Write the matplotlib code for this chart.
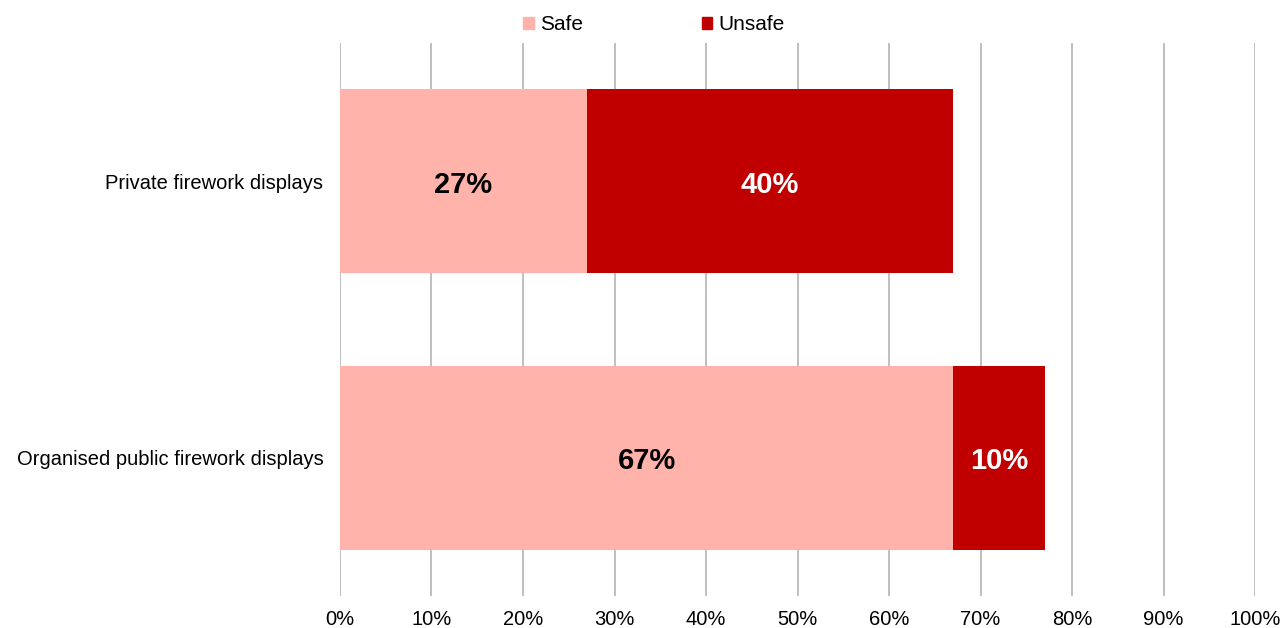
import numpy as np
import matplotlib.pyplot as plt
from matplotlib.patches import Patch

plt.rcParams['font.family'] = ['Liberation Sans', 'DejaVu Sans']

# Survey shares (%)
categories = ['Private firework displays', 'Organised public firework displays']
safe = [27, 67]
unsafe = [40, 10]
series_names = ['Safe', 'Unsafe']
series_colors = ['#FFB3AB', '#C00000']
label_colors = ['black', 'white']
xticks = np.arange(0, 101, 10)

fig = plt.figure(figsize=(12.82, 6.28), dpi=100)
ax = fig.add_axes([0.2652, 0.051, 0.979 - 0.2652, 0.8805])

y = np.arange(len(categories))
left = np.zeros(len(categories))
for vals, name, col, tcol in zip([safe, unsafe], series_names, series_colors, label_colors):
    vals = np.array(vals, dtype=float)
    bars = ax.barh(y, vals, left=left, height=0.664, color=col, label=name, zorder=2)
    for b, v in zip(bars, vals):
        ax.text(b.get_x() + b.get_width() / 2, b.get_y() + b.get_height() / 2 + 0.012,
                f'{v:.0f}%', ha='center', va='center', fontsize=21,
                fontweight='bold', color=tcol, zorder=3)
    left += vals

ax.set_xlim(0, 100)
ax.set_ylim(len(categories) - 0.5, -0.5)
ax.set_xticks(xticks)
ax.set_xticklabels([f'{t}%' for t in xticks], fontsize=14.5)
ax.set_yticks(y)
ax.set_yticklabels(categories, fontsize=14.5)
ax.tick_params(axis='both', length=0)
ax.tick_params(axis='y', pad=12)
ax.tick_params(axis='x', pad=10)
ax.grid(axis='x', color='#BFBFBF', linewidth=1.4, zorder=0)
for s in ax.spines.values():
    s.set_visible(False)

handles = [Patch(color=c, label=n) for n, c in zip(series_names, series_colors)]
fig.legend(handles=handles, loc='center', bbox_to_anchor=(0.51, 0.961), ncol=2,
           frameon=False, fontsize=15, handlelength=0.5, handleheight=0.5,
           handletextpad=0.3, columnspacing=5.7)

fig.savefig('out.png', dpi=100)
